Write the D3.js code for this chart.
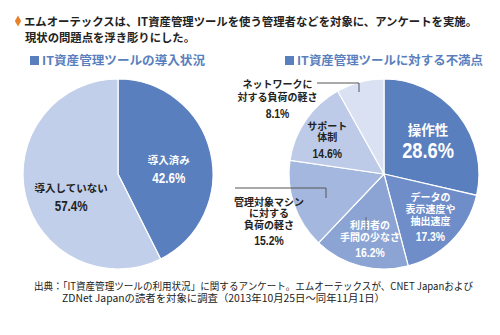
<!DOCTYPE html>
<html>
<head>
<meta charset="utf-8">
<script src="https://cdn.jsdelivr.net/npm/d3@7"></script>
<style>
  body { margin: 0; background: #fff; }
  svg { display: block; font-family: "Noto Sans CJK JP", "Noto Sans", sans-serif; }
</style>
</head>
<body>
<div id="chart"></div>
<script>
const titleLines = ['エムオーテックスは、IT資産管理ツールを使う管理者などを対象に、アンケートを実施。', '現状の問題点を浮き彫りにした。'];
const sourceLines = ['出典：「IT資産管理ツールの利用状況」に関するアンケート。エムオーテックスが、CNET Japanおよび', 'ZDNet Japanの読者を対象に調査（2013年10月25日～同年11月1日）'];

const leftTitle = 'IT資産管理ツールの導入状況';
const leftLabels = [['導入済み'], ['導入していない']];
const leftValues = [42.6, 57.4];

const rightTitle = 'IT資産管理ツールに対する不満点';
const rightLabels = [['操作性'], ['データの', '表示速度や', '抽出速度'], ['利用者の', '手間の少なさ'], ['管理対象マシン', 'に対する', '負荷の軽さ'], ['サポート', '体制'], ['ネットワークに', '対する負荷の軽さ']];
const rightValues = [28.6, 17.3, 16.2, 15.2, 14.6, 8.1];

const width = 500;
const height = 335;
const radius = 95;

const blueDark = '#5a7fbe';
const leftColors = [blueDark, '#c1cfea'];
const rightColors = [blueDark, '#6f8ec9', '#8ba4d4', '#a4b7de', '#bdcbe8', '#d9e1f2'];

const svg = d3.select('#chart').append('svg')
    .attr('width', width)
    .attr('height', height);

// heading
svg.append('path')
    .attr('d', d3.symbol(d3.symbolDiamond, 34)())
    .attr('transform', 'translate(18,21)')
    .attr('fill', '#e8822a');

svg.append('text')
    .attr('x', 24).attr('y', 26)
    .attr('textLength', 453).attr('lengthAdjust', 'spacingAndGlyphs')
    .style('font-size', '11.5px').style('font-weight', 'bold').attr('fill', '#222')
    .text(titleLines[0]);

svg.append('text')
    .attr('x', 25).attr('y', 42)
    .attr('textLength', 170).attr('lengthAdjust', 'spacingAndGlyphs')
    .style('font-size', '11.5px').style('font-weight', 'bold').attr('fill', '#222')
    .text(titleLines[1]);

const subTitle = (x, text, len) => {
    svg.append('rect').attr('x', x).attr('y', 56).attr('width', 9).attr('height', 9).attr('fill', blueDark);
    svg.append('text')
        .attr('x', x + 12).attr('y', 65)
        .attr('textLength', len).attr('lengthAdjust', 'spacingAndGlyphs')
        .style('font-size', '12px').style('font-weight', 'bold').attr('fill', blueDark)
        .text(text);
};
subTitle(30, leftTitle, 163);
subTitle(285, rightTitle, 186);

const pie = d3.pie().sort(null).value(d => d);
const arc = d3.arc().innerRadius(0).outerRadius(radius);

const drawPie = (cx, cy, values, colors) => {
    const g = svg.append('g').attr('transform', `translate(${cx},${cy})`);
    const arcs = pie(values);
    g.selectAll('path')
        .data(arcs)
        .enter()
        .append('path')
        .attr('d', arc)
        .attr('fill', (d, i) => colors[i])
        .attr('stroke', '#fff')
        .attr('stroke-width', 1.2);
    return { g, arcs };
};

// multi-line label block: name lines then percentage
const label = (g, x, y, lines, value, opts) => {
    lines.forEach((line, i) => {
        g.append('text')
            .attr('x', x).attr('y', y + i * opts.lh)
            .attr('text-anchor', 'middle')
            .attr('fill', opts.color)
            .style('font-weight', 'bold')
            .style('font-size', opts.fs + 'px')
            .text(line);
    });
    const pct = g.append('text')
        .attr('x', x).attr('y', y + (lines.length - 1) * opts.lh + opts.gap)
        .attr('text-anchor', 'middle')
        .attr('fill', opts.color)
        .style('font-family', '"Liberation Sans", Arial, sans-serif')
        .style('font-weight', 'bold')
        .style('font-size', opts.pfs + 'px')
        .text(value.toFixed(1) + '%');
    // the original uses a condensed face
    const w = pct.node().getComputedTextLength();
    pct.attr('textLength', w * 0.83).attr('lengthAdjust', 'spacingAndGlyphs');
};

// left pie
const left = drawPie(118, 174, leftValues, leftColors);
const leftLabelArc = d3.arc().innerRadius(radius * 0.55).outerRadius(radius * 0.55);
const leftNudge = [[0, 2], [4, 6]];
left.arcs.forEach((d, i) => {
    const [x, y] = leftLabelArc.centroid(d);
    label(left.g, x + leftNudge[i][0], y + leftNudge[i][1], leftLabels[i], leftValues[i], {
        color: i === 0 ? '#fff' : '#222', fs: 10.5, lh: 14, gap: 19, pfs: 14
    });
});

// right pie
const right = drawPie(384, 174, rightValues, rightColors);
const rightLabelArc = d3.arc().innerRadius(radius * 0.68).outerRadius(radius * 0.68);
// offsets from centroid (inside) or from pie centre (outside slices)
const rightPlace = [
    { dx: -6.5, dy: 1, outside: false },
    { dx: 0, dy: -17.5, outside: false },
    { dx: 2, dy: -7.5, outside: false },
    { dx: -115, dy: 31.5, outside: true },
    { dx: -3.5, dy: -7.5, outside: false },
    { dx: -106.5, dy: -86.5, outside: true }
];
right.arcs.forEach((d, i) => {
    const p = rightPlace[i];
    let x = p.dx, y = p.dy;
    if (!p.outside) {
        const c = rightLabelArc.centroid(d);
        x += c[0];
        y += c[1];
    }
    const white = i < 3;
    if (i === 0) {
        label(right.g, x, y, rightLabels[i], rightValues[i], { color: '#fff', fs: 13.5, lh: 16, gap: 23, pfs: 22 });
    } else {
        label(right.g, x, y, rightLabels[i], rightValues[i], {
            color: white ? '#fff' : '#222', fs: 10, lh: i === 5 ? 13 : 11.6, gap: i === 5 ? 17 : 16.5, pfs: 12.5
        });
    }
});

// leader lines
const leader = (pts) => svg.append('path')
    .attr('d', d3.line()(pts))
    .attr('fill', 'none')
    .attr('stroke', '#555')
    .attr('stroke-width', 1);
leader([[317, 83], [359, 83], [359, 92]]);
leader([[235, 188], [326, 188], [326, 198]]);
svg.append('path').attr('d', d3.line()([[366, 217], [366, 231]])).attr('stroke', '#666').attr('stroke-width', 1);

// source
svg.append('text')
    .attr('x', 34).attr('y', 290)
    .attr('textLength', 439).attr('lengthAdjust', 'spacingAndGlyphs')
    .style('font-size', '10px').attr('fill', '#222')
    .text(sourceLines[0]);
svg.append('text')
    .attr('x', 62).attr('y', 302)
    .attr('textLength', 323).attr('lengthAdjust', 'spacingAndGlyphs')
    .style('font-size', '10px').attr('fill', '#222')
    .text(sourceLines[1]);
</script>
</body>
</html>
